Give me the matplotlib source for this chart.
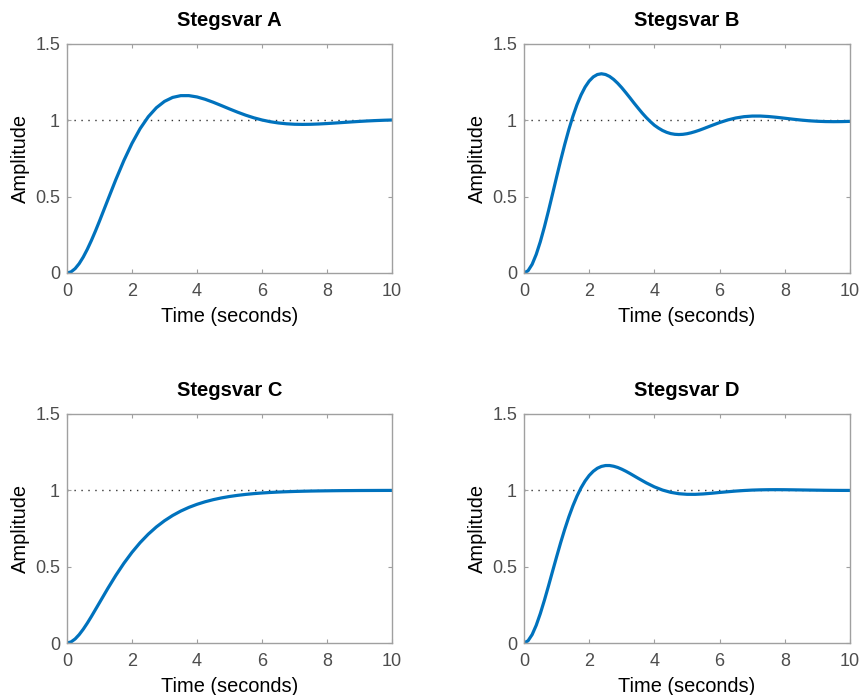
import matplotlib
matplotlib.use("Agg")
import matplotlib.pyplot as plt

# Common coarse time grid (seconds) used after the fast-changing start
time_tail_a = [1.25, 1.5, 1.75, 2.0, 2.25, 2.5, 2.75, 3.0, 3.25, 3.5, 3.75, 4.0,
               4.25, 4.5, 4.75, 5.0, 5.25, 5.5, 5.75, 6.0, 6.25, 6.5, 6.75, 7.0,
               7.25, 7.5, 7.75, 8.0, 8.25, 8.5, 8.75, 9.0, 9.25, 9.5, 9.75, 10.0]

# --- Stegsvar A ---
time_a = [0.0, 0.125, 0.25, 0.375, 0.5, 0.625, 0.75, 0.875, 1.0] + time_tail_a
resp_a = [0.0, 0.0075, 0.0287, 0.0616, 0.1044, 0.1554, 0.2127, 0.2748, 0.3403,
          0.4758, 0.6105, 0.7366, 0.8494, 0.9456, 1.0234, 1.0825, 1.1241, 1.1501,
          1.1617, 1.1618, 1.1532, 1.1379, 1.1184, 1.0968, 1.0746, 1.0533, 1.0336,
          1.0165, 1.0023, 0.9911, 0.9829, 0.9774, 0.9743, 0.9734, 0.9741, 0.9761,
          0.9790, 0.9824, 0.9860, 0.9896, 0.9930, 0.9960, 0.9985, 1.0006, 1.0022]

# --- Stegsvar B ---
time_b = [0.0, 0.125, 0.25, 0.375, 0.5, 0.625, 0.75, 0.875, 1.0, 1.125, 1.25,
          1.375, 1.5, 1.625, 1.75, 1.875, 2.0, 2.125, 2.25, 2.375, 2.5, 2.625,
          2.75, 2.875, 3.0, 3.125, 3.25, 3.375, 3.5, 3.625, 3.75, 3.875, 4.0,
          4.125, 4.25, 4.375, 4.5, 4.625, 4.75, 4.875, 5.0, 5.125, 5.25, 5.375,
          5.5, 5.75, 6.0, 6.25, 6.5, 6.75, 7.0, 7.25, 7.5, 7.75, 8.0, 8.25, 8.5,
          8.75, 9.0, 9.25, 9.5, 9.75, 10.0]
resp_b = [0.0, 0.0150, 0.0570, 0.1218, 0.2046, 0.3011, 0.4065, 0.5172, 0.6289,
          0.7384, 0.8427, 0.9393, 1.0263, 1.1025, 1.1663, 1.2182, 1.2574, 1.2845,
          1.3001, 1.3050, 1.3003, 1.2876, 1.2679, 1.2426, 1.2134, 1.1810, 1.1476,
          1.1131, 1.0802, 1.0479, 1.0184, 0.9919, 0.9678, 0.9492, 0.9334, 0.9215,
          0.9131, 0.9085, 0.9070, 0.9084, 0.9123, 0.9183, 0.9261, 0.9350, 0.9449,
          0.9656, 0.9854, 1.0025, 1.0155, 1.0240, 1.0279, 1.0280, 1.0249, 1.0198,
          1.0137, 1.0074, 1.0017, 0.9970, 0.9938, 0.9919, 0.9913, 0.9918, 0.9931]

# --- Stegsvar C ---
time_c = [0.0, 0.125, 0.25, 0.375, 0.5, 0.625, 0.75, 1.0] + time_tail_a
resp_c = [0.0, 0.0072, 0.0265, 0.0550, 0.0902, 0.1302, 0.1734, 0.2642,
          0.3554, 0.4422, 0.5221, 0.5940, 0.6575, 0.7127, 0.7603, 0.8008, 0.8352,
          0.8641, 0.8883, 0.9084, 0.9251, 0.9389, 0.9503, 0.9596, 0.9672, 0.9734,
          0.9785, 0.9826, 0.9860, 0.9888, 0.9909, 0.9927, 0.9941, 0.9953, 0.9962,
          0.9969, 0.9976, 0.9981, 0.9984, 0.9988, 0.9990, 0.9992, 0.9994, 0.9995]

# --- Stegsvar D ---
time_d = [0.0, 0.125, 0.25, 0.375, 0.5, 0.625, 0.75, 0.875, 1.0, 1.125, 1.25,
          1.375, 1.5, 1.625, 1.75, 1.875, 2.0, 2.125, 2.25, 2.375, 2.5, 2.625,
          2.75, 2.875, 3.0, 3.125, 3.25, 3.375, 3.5, 3.75, 4.0, 4.25, 4.5, 4.75,
          5.0, 5.25, 5.5, 5.75, 6.0, 6.25, 6.5, 6.75, 7.0, 7.25, 7.5, 7.75, 8.0,
          8.25, 8.5, 8.75, 9.0, 9.25, 9.5, 9.75, 10.0]
resp_d = [0.0, 0.0148, 0.0552, 0.1160, 0.1924, 0.2794, 0.3727, 0.4690, 0.5646,
          0.6577, 0.7452, 0.8258, 0.8983, 0.9619, 1.0165, 1.0614, 1.0975, 1.1248,
          1.1446, 1.1566, 1.1624, 1.1625, 1.1578, 1.1497, 1.1384, 1.1251, 1.1104,
          1.0948, 1.0792, 1.0490, 1.0226, 1.0017, 0.9869, 0.9779, 0.9739, 0.9737,
          0.9764, 0.9808, 0.9860, 0.9908, 0.9953, 0.9989, 1.0016, 1.0032, 1.0041,
          1.0043, 1.0040, 1.0033, 1.0025, 1.0017, 1.0010, 1.0003, 0.9998, 0.9995,
          0.9994]

titles = ["Stegsvar A", "Stegsvar B", "Stegsvar C", "Stegsvar D"]
steady_state = 1.0
x_ticks = [0, 2, 4, 6, 8, 10]
y_ticks = [0, 0.5, 1, 1.5]
y_tick_labels = ["0", "0.5", "1", "1.5"]

plt.rcParams["font.family"] = ["Liberation Sans", "DejaVu Sans"]

W, H = 863, 695
fig = plt.figure(figsize=(W / 100, H / 100), dpi=100)

# axes boxes in pixels: (left, top, right, bottom)
boxes = [(67, 44, 392, 273), (524, 44, 850, 273),
         (67, 414, 392, 643), (524, 414, 850, 643)]
series = [(time_a, resp_a), (time_b, resp_b), (time_c, resp_c), (time_d, resp_d)]

line_color = "#0072BD"
spine_color = "#a0a0a0"
tick_text = "#4d4d4d"

for (l, t, r, b), (xs, ys), title in zip(boxes, series, titles):
    ax = fig.add_axes([l / W, 1 - b / H, (r - l) / W, (b - t) / H])
    ax.plot([0, 10], [steady_state, steady_state], color="#333333",
            linewidth=1.0, linestyle=(0, (1, 4)), zorder=1)
    ax.plot(xs, ys, color=line_color, linewidth=2.3, zorder=2,
            solid_joinstyle="round", solid_capstyle="round")
    ax.set_xlim(0, 10)
    ax.set_ylim(0, 1.5)
    ax.set_xticks(x_ticks)
    ax.set_xticklabels([str(v) for v in x_ticks])
    ax.set_yticks(y_ticks)
    ax.set_yticklabels(y_tick_labels)
    ax.tick_params(direction="in", length=3, width=0.8, color=spine_color,
                   top=True, right=True, labelsize=13, labelcolor=tick_text)
    ax.tick_params(axis="x", pad=7)
    ax.tick_params(axis="y", pad=5)
    for sp in ax.spines.values():
        sp.set_color(spine_color)
        sp.set_linewidth(1.0)
    ax.set_xlabel("Time (seconds)", fontsize=14.4, color="black", labelpad=5)
    ax.set_ylabel("Amplitude", fontsize=14.4, color="black", labelpad=4)
    ax.set_title(title, fontsize=14.5, fontweight="bold", pad=13)

fig.savefig("out.png", dpi=100)
